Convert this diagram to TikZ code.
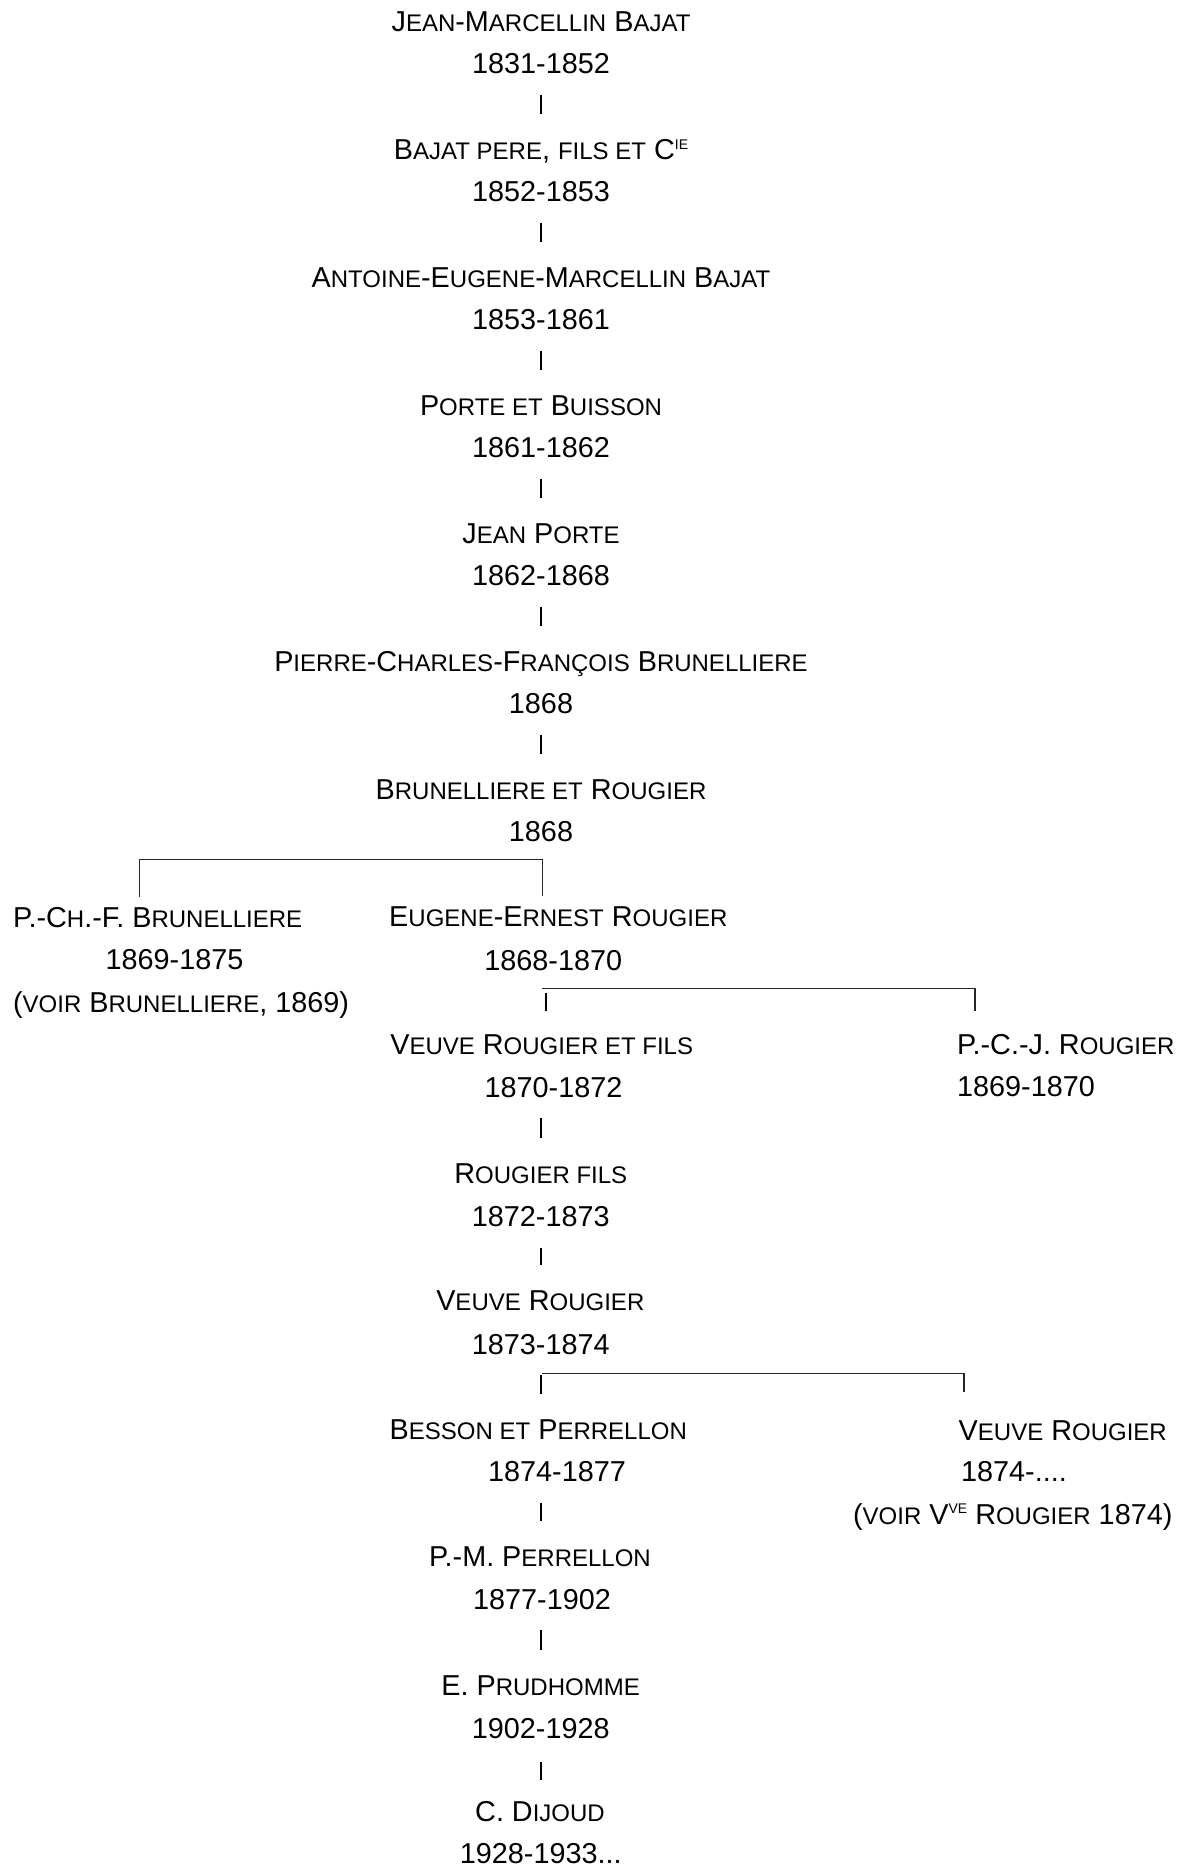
\documentclass[tikz,border=0pt]{standalone}
\usepackage{fontspec}
\setmainfont{Liberation Sans}
\newcommand\sml[1]{{\fontsize{12}{14}\selectfont #1}}
\newcommand\supr[1]{\raisebox{5.3pt}{\fontsize{7}{8}\selectfont #1}}

\begin{document}
\begin{tikzpicture}[x=0.5pt,y=-0.5pt,
  every node/.style={font=\fontsize{14.4}{17}\selectfont,inner xsep=0pt,
                     inner ysep=4.7pt,text height=10.3pt,text depth=3pt},
  entry/.style={anchor=base},
  side/.style={anchor=base west},
  bar/.style={line width=1pt,shorten <=2.8pt,shorten >=7.5pt},
  link/.style={line width=0.6pt,black!85}
]
\path[use as bounding box,fill=white] (0,0) rectangle (1192,1867);
\coordinate (spine) at (540.5,0);
\coordinate (spineB) at (545.7,0);

% main line of succession
\node[entry] (n_jmb) at (541,31.7) {J\sml{EAN}-M\sml{ARCELLIN} B\sml{AJAT}};
\node[entry] (d_jmb) at (541,73.7) {1831-1852};
\node[entry] (n_bpf) at (541,159.7)
  {B\sml{AJAT PERE}, \sml{FILS ET} C\supr{IE}};
\node[entry] (d_bpf) at (541,201.7) {1852-1853};
\node[entry] (n_aemb) at (541,287.7)
  {A\sml{NTOINE}-E\sml{UGENE}-M\sml{ARCELLIN} B\sml{AJAT}};
\node[entry] (d_aemb) at (541,329.7) {1853-1861};
\node[entry] (n_pb) at (541,415.7) {P\sml{ORTE ET} B\sml{UISSON}};
\node[entry] (d_pb) at (541,457.7) {1861-1862};
\node[entry] (n_jp) at (541,543.7) {J\sml{EAN} P\sml{ORTE}};
\node[entry] (d_jp) at (541,585.7) {1862-1868};
\node[entry] (n_pcfb) at (541,671.7)
  {P\sml{IERRE}-C\sml{HARLES}-F\sml{RANÇOIS} B\sml{RUNELLIERE}};
\node[entry] (d_pcfb) at (541,713.7) {1868};
\node[entry] (n_br) at (541,799.7) {B\sml{RUNELLIERE ET} R\sml{OUGIER}};
\node[entry] (d_br) at (541,841.7) {1868};

\draw[bar] (d_jmb.south -| spine) -- (n_bpf.north -| spine);
\draw[bar] (d_bpf.south -| spine) -- (n_aemb.north -| spine);
\draw[bar] (d_aemb.south -| spine) -- (n_pb.north -| spine);
\draw[bar] (d_pb.south -| spine) -- (n_jp.north -| spine);
\draw[bar] (d_jp.south -| spine) -- (n_pcfb.north -| spine);
\draw[bar] (d_pcfb.south -| spine) -- (n_br.north -| spine);

% first split
\node[side] (n_pch) at (12.7,927) {P.-C\sml{H}.-F. B\sml{RUNELLIERE}};
\node[entry] (d_pch) at (174.5,969.3) {1869-1875};
\node[side] (nt_pch) at (12.7,1012.3) {(\sml{VOIR} B\sml{RUNELLIERE}, 1869)};
\node[entry] (n_eer) at (558.3,926.7) {E\sml{UGENE}-E\sml{RNEST} R\sml{OUGIER}};
\node[entry] (d_eer) at (553.3,970.3) {1868-1870};

\coordinate (fkAl) at (139.3,859.3);
\coordinate (fkA) at (542.7,859.3);
\draw[link] (n_pch.north -| fkAl) |- (fkA) -- (n_eer.north -| fkA);

% second split
\node[entry] (n_vrf) at (541.7,1054) {V\sml{EUVE} R\sml{OUGIER ET FILS}};
\node[entry] (d_vrf) at (553.5,1097) {1870-1872};
\node[side] (n_pcj) at (956.7,1054) {P.-C.-J. R\sml{OUGIER}};
\node[side] (d_pcj) at (956.7,1096) {1869-1870};

\coordinate (fkB) at (542.3,988.8);
\coordinate (fkBr) at (975,988.8);
\draw[link,shorten >=6.5pt] (fkB) -| (n_pcj.north -| fkBr);
\draw[bar,shorten <=3.6pt,shorten >=6.2pt] (d_eer.south -| spineB) -- (n_vrf.north -| spineB);

\node[entry] (n_rf) at (540.8,1183.3) {R\sml{OUGIER FILS}};
\node[entry] (d_rf) at (540.8,1226.7) {1872-1873};
\node[entry] (n_vr) at (540.3,1310.7) {V\sml{EUVE} R\sml{OUGIER}};
\node[entry] (d_vr) at (540.8,1354) {1873-1874};

\draw[bar] (d_vrf.south -| spine) -- (n_rf.north -| spine);
\draw[bar] (d_rf.south -| spine) -- (n_vr.north -| spine);

% third split
\node[entry] (n_bp) at (538.3,1439.3) {B\sml{ESSON ET} P\sml{ERRELLON}};
\node[entry] (d_bp) at (557,1481.7) {1874-1877};
\node[side] (n_vr2) at (958.3,1440) {V\sml{EUVE} R\sml{OUGIER}};
\node[side] (d_vr2) at (960.7,1481.7) {1874-....};
\node[side] (nt_vr2) at (852.7,1524)
  {(\sml{VOIR} V\supr{VE} R\sml{OUGIER} 1874)};

\coordinate (fkC) at (542.3,1373.3);
\coordinate (fkCr) at (964,1373.3);
\draw[link,shorten >=8.6pt] (fkC) -| (n_vr2.north -| fkCr);
\draw[bar] (d_vr.south -| spine) -- (n_bp.north -| spine);

\node[entry] (n_pmp) at (540,1566) {P.-M. P\sml{ERRELLON}};
\node[entry] (d_pmp) at (542,1609) {1877-1902};
\node[entry] (n_ep) at (540.6,1695) {E. P\sml{RUDHOMME}};
\node[entry] (d_ep) at (540.8,1738) {1902-1928};
\node[entry] (n_cd) at (540,1821) {C. D\sml{IJOUD}};
\node[entry] (d_cd) at (540.8,1863) {1928-1933...};

\draw[bar] (d_bp.south -| spine) -- (n_pmp.north -| spine);
\draw[bar] (d_pmp.south -| spine) -- (n_ep.north -| spine);
\draw[bar,shorten <=4pt,shorten >=5.5pt] (d_ep.south -| spine) -- (n_cd.north -| spine);
\end{tikzpicture}
\end{document}
